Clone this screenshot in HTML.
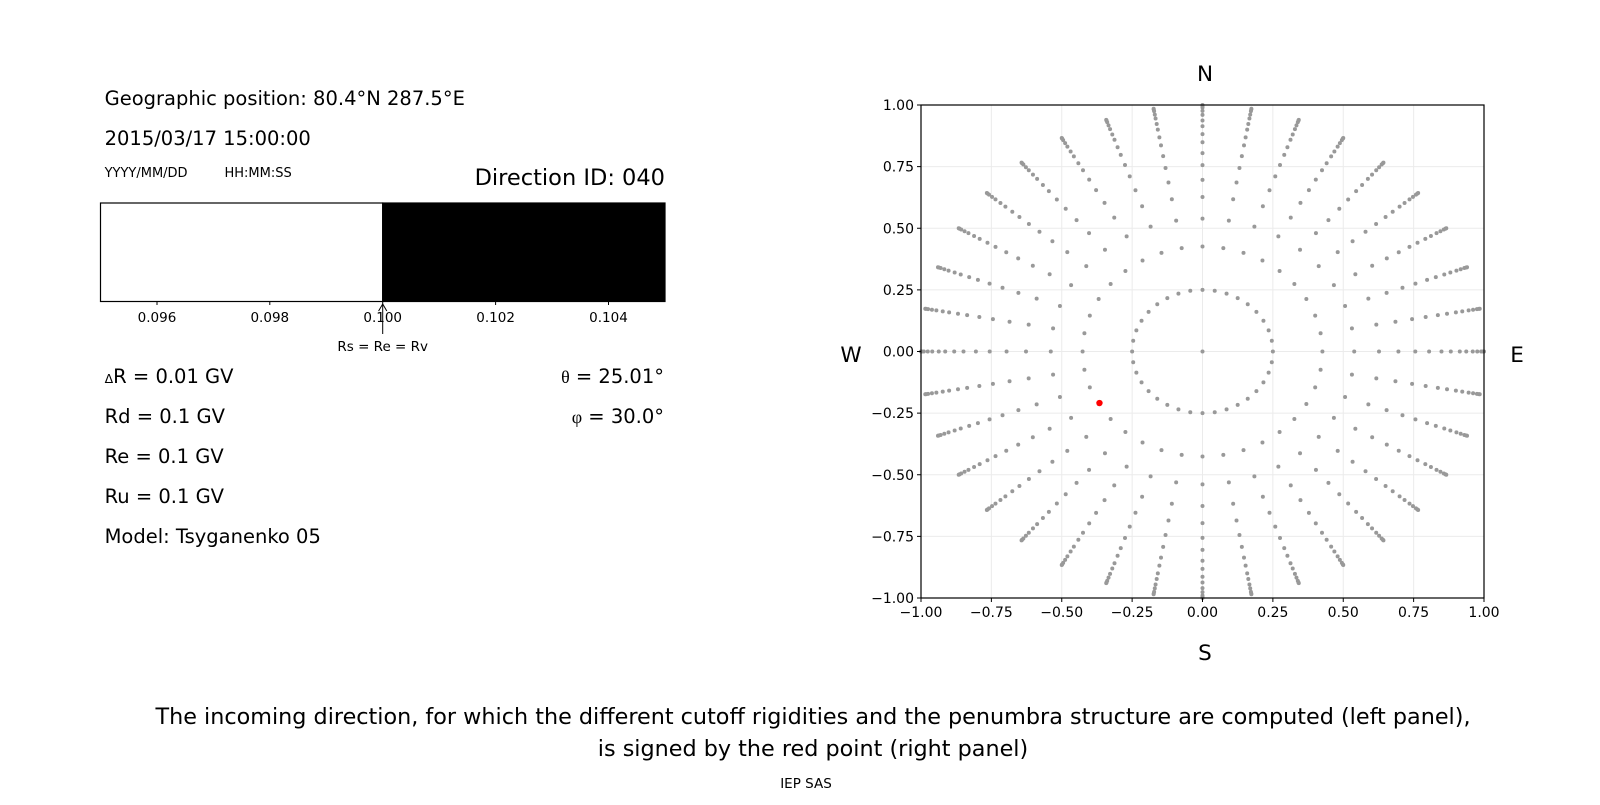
<!DOCTYPE html>
<html><head><meta charset="utf-8"><style>
body{margin:0;background:#fff;width:1600px;height:800px;overflow:hidden;font-family:"Liberation Sans","DejaVu Sans",sans-serif;}
svg text{font-family:"DejaVu Sans","Liberation Sans",sans-serif;fill:#000;}
</style></head><body>
<svg id="s" width="1600" height="800" xmlns="http://www.w3.org/2000/svg">
<text x="104.6" y="105" font-size="19.5">Geographic position: 80.4°N 287.5°E</text>
<text x="104.6" y="145" font-size="19.5">2015/03/17 15:00:00</text>
<text x="104.6" y="177" font-size="13">YYYY/MM/DD</text>
<text x="224.5" y="177" font-size="13">HH:MM:SS</text>
<text x="665" y="185" font-size="22.5" text-anchor="end">Direction ID: 040</text>
<rect x="100.5" y="203" width="282.2" height="98.5" fill="#fff" stroke="#000" stroke-width="1.2"/>
<rect x="382.7" y="203" width="282.3" height="98.5" fill="#000" stroke="#000" stroke-width="1.2"/>
<g stroke="#000" stroke-width="1">
<line x1="157" y1="301.5" x2="157" y2="305"/><line x1="269.8" y1="301.5" x2="269.8" y2="305"/><line x1="382.7" y1="301.5" x2="382.7" y2="305"/><line x1="495.6" y1="301.5" x2="495.6" y2="305"/><line x1="608.5" y1="301.5" x2="608.5" y2="305"/>
<line x1="382.7" y1="334" x2="382.7" y2="304"/><polyline points="378.6,311 382.7,304 386.8,311" fill="none"/>
</g>
<g font-size="13.5" text-anchor="middle">
<text x="157" y="322">0.096</text><text x="269.8" y="322">0.098</text><text x="382.7" y="322">0.100</text><text x="495.6" y="322">0.102</text><text x="608.5" y="322">0.104</text>
<text x="382.7" y="351">Rs = Re = Rv</text>
</g>
<g font-size="19.5">
<text x="104.6" y="383"><tspan font-size="12.5">Δ</tspan>R = 0.01 GV</text>
<text x="104.6" y="423">Rd = 0.1 GV</text>
<text x="104.6" y="463">Re = 0.1 GV</text>
<text x="104.6" y="503">Ru = 0.1 GV</text>
<text x="104.6" y="543">Model: Tsyganenko 05</text>
<text x="664" y="383" text-anchor="end"><tspan font-family="Liberation Serif" font-size="18">θ</tspan> = 25.01°</text>
<text x="664" y="423" text-anchor="end"><tspan font-family="Liberation Serif" font-size="18">φ</tspan> = 30.0°</text>
</g>
<g id="grid" stroke="#ebebeb" stroke-width="1"></g>
<g id="dots" fill="#999"></g>
<circle id="red" r="3.2" fill="#ff0000"/>
<rect id="frame" fill="none" stroke="#000" stroke-width="1.2"/>
<g id="ticks" stroke="#000" stroke-width="1"></g>
<g id="tl" font-size="14"></g>
<g font-size="21.5" text-anchor="middle">
<text x="1205" y="81">N</text><text x="1205" y="660">S</text><text x="851" y="362">W</text><text x="1517" y="362">E</text>
</g>
<g text-anchor="middle">
<text x="813" y="724" font-size="22.3">The incoming direction, for which the different cutoff rigidities and the penumbra structure are computed (left panel),</text>
<text x="813" y="756" font-size="22.3">is signed by the red point (right panel)</text>
<text x="806" y="788" font-size="13.5">IEP SAS</text>
</g>
</svg>
<script>
var L=921,R=1484,T=105,B=598,cx=(L+R)/2,cy=(T+B)/2,sx=(R-L)/2,sy=(B-T)/2;
var ns="http://www.w3.org/2000/svg";
function el(p,t,a,txt){var e=document.createElementNS(ns,t);for(var k in a)e.setAttribute(k,a[k]);if(txt)e.textContent=txt;document.getElementById(p).appendChild(e);}
var f=document.getElementById('frame');f.setAttribute('x',L);f.setAttribute('y',T);f.setAttribute('width',R-L);f.setAttribute('height',B-T);
var rd=document.getElementById('red');rd.setAttribute('cx',cx-0.366*sx);rd.setAttribute('cy',cy+0.209*sy);
var vals=[-1,-0.75,-0.5,-0.25,0,0.25,0.5,0.75,1];
vals.forEach(function(v){var X=cx+v*sx,Y=cy-v*sy;
el('grid','line',{x1:X,y1:T,x2:X,y2:B});el('grid','line',{x1:L,y1:Y,x2:R,y2:Y});
el('ticks','line',{x1:X,y1:B,x2:X,y2:B+4});el('ticks','line',{x1:L-4,y1:Y,x2:L,y2:Y});
var s=(v<0?'\u2212':'')+Math.abs(v).toFixed(2);
el('tl','text',{x:X,y:B+19,'text-anchor':'middle'},s);
el('tl','text',{x:L-7,y:Y+5,'text-anchor':'end'},s);});
var rad=[0.426,0.539,0.627,0.696,0.756,0.805,0.849,0.882,0.914,0.937,0.96,0.976,0.99,0.997,1.0];
function dot(x,y){el('dots','circle',{cx:cx+x*sx,cy:cy-y*sy,r:2});}
dot(0,0);
for(var a=0;a<360;a+=10){var t=a*Math.PI/180,c=Math.sin(t),d=Math.cos(t);
dot(0.25*c,0.25*d);
rad.forEach(function(r){dot(r*c,r*d);});}
</script>
</body></html>
